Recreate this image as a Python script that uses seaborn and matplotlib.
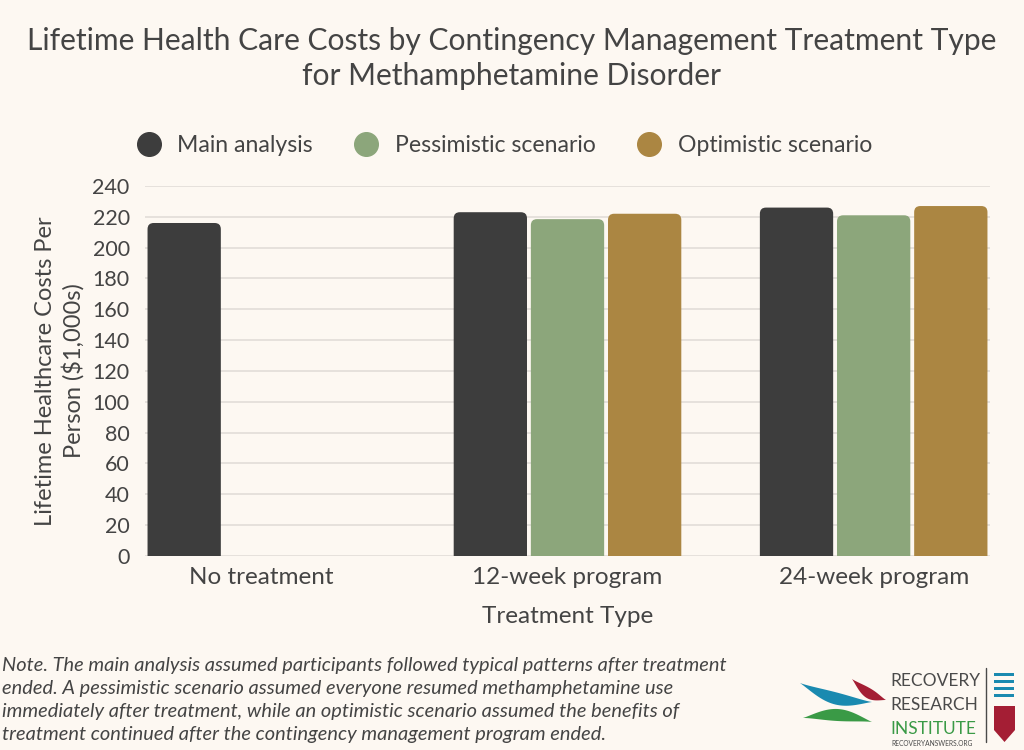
import numpy as np
import pandas as pd
import matplotlib
matplotlib.use("Agg")
import matplotlib.pyplot as plt
import seaborn as sns
from matplotlib.patches import FancyBboxPatch, Polygon, Rectangle
from matplotlib.lines import Line2D

treatments = ["No treatment", "12-week program", "24-week program"]
scenarios = ["Main analysis", "Pessimistic scenario", "Optimistic scenario"]
main_costs = [216, 223, 226]
pessimistic_costs = [np.nan, 218.5, 221]
optimistic_costs = [np.nan, 222, 227]
yticks = list(range(0, 241, 20))

colors = ["#3d3d3d", "#8ca67b", "#ab8642"]
bg = "#fdf8f2"
txt = "#444444"

rows = []
for name, vals in zip(scenarios, [main_costs, pessimistic_costs, optimistic_costs]):
    for t, v in zip(treatments, vals):
        if not np.isnan(v):
            rows.append({"Treatment": t, "Scenario": name, "Cost": v})
df = pd.DataFrame(rows)

sns.set_style("white")
plt.rcParams['font.family'] = ['Lato', 'DejaVu Sans']
plt.rcParams['text.color'] = txt

fig = plt.figure(figsize=(10.24, 7.5), dpi=100, facecolor=bg)
ax = fig.add_axes([0.1416, 0.2587, 0.8252, 0.4933])
ax.set_facecolor(bg)

sns.barplot(data=df, x="Treatment", y="Cost", hue="Scenario", order=treatments,
            hue_order=scenarios, palette=colors, width=0.756, gap=0.05,
            saturation=1, legend=False, ax=ax, zorder=3)

# rounded tops
for bar in list(ax.patches):
    x0, w, h = bar.get_x(), bar.get_width(), bar.get_height()
    if np.isnan(h) or h == 0:
        bar.remove()
        continue
    fc = bar.get_facecolor()
    bar.remove()
    rb = FancyBboxPatch((x0, -10), w, h + 10,
                        boxstyle="round,pad=0,rounding_size=0.02",
                        mutation_aspect=199, fc=fc, ec="none", zorder=3)
    ax.add_patch(rb)

ax.set_xlim(-0.38, 2.38)
ax.set_ylim(0, 240)
ax.set_yticks(yticks)
ax.yaxis.grid(True, color="#e2ddd8", lw=1.2, zorder=0)
ax.tick_params(axis="both", length=0, labelcolor=txt)
ax.tick_params(axis="x", pad=8, labelsize=17.5)
ax.tick_params(axis="y", pad=11, labelsize=15.5)
for s in ax.spines.values():
    s.set_visible(False)
ax.set_xlabel("Treatment Type", fontsize=17.5, color=txt, labelpad=13)
ax.set_ylabel("Lifetime Healthcare Costs Per\nPerson ($1,000s)", fontsize=17,
              color=txt, labelpad=6, linespacing=1.25)

fig.text(0.5, 0.922, "Lifetime Health Care Costs by Contingency Management Treatment Type\nfor Methamphetamine Disorder",
         ha="center", va="center", fontsize=21.6, color=txt, linespacing=1.32)

handles = [Line2D([], [], marker="o", ls="none", ms=17, mfc=c, mec=c) for c in colors]
fig.legend(handles, scenarios, loc="center", bbox_to_anchor=(0.487, 0.806), ncol=3,
           frameon=False, fontsize=16.6, handletextpad=0.25, columnspacing=1.3)

note = ("Note. The main analysis assumed participants followed typical patterns after treatment\n"
        "ended. A pessimistic scenario assumed everyone resumed methamphetamine use\n"
        "immediately after treatment, while an optimistic scenario assumed the benefits of\n"
        "treatment continued after the contingency management program ended.")
fig.text(0.002, 0.0667, note, ha="left", va="center", fontsize=14.4, style="italic",
         color=txt, linespacing=1.42)


def leaf(x0, y0, x1, y1, width, bend, color):
    # thin curved leaf shape in figure pixels
    t = np.linspace(0, 1, 40)
    px = x0 + (x1 - x0) * t
    py = y0 + (y1 - y0) * t + bend * np.sin(np.pi * t)
    dx, dy = x1 - x0, y1 - y0
    n = np.hypot(dx, dy)
    nx, ny = -dy / n, dx / n
    half = width * np.sin(np.pi * t) ** 1.2
    top = np.column_stack([px + nx * half, py + ny * half])
    bot = np.column_stack([px - nx * half, py - ny * half])[::-1]
    pts = np.vstack([top, bot]) / np.array([1024, 750])
    fig.patches.append(Polygon(pts, closed=True, transform=fig.transFigure, fc=color, ec="none"))


# logo (pixel coordinates converted to figure fractions)
leaf(800, 750 - 683, 872, 750 - 702, 6, -6, "#1a8ab0")
leaf(852, 750 - 679, 886, 750 - 700, 5, -4, "#a41e34")
leaf(803, 750 - 718, 872, 750 - 722, 6, 5, "#3a9a46")
fig.text(890 / 1024, 1 - 681 / 750, "RECOVERY", fontsize=12.5, color="#4a4a4a", va="center")
fig.text(890 / 1024, 1 - 705 / 750, "RESEARCH", fontsize=12.5, color="#4a4a4a", va="center")
fig.text(890 / 1024, 1 - 729 / 750, "INSTITUTE", fontsize=12.5, color="#3a9a46", va="center")
fig.text(891 / 1024, 1 - 743 / 750, "RECOVERYANSWERS.ORG", fontsize=4.8, color="#4a4a4a", va="center")
fig.lines.append(Line2D([986 / 1024, 986 / 1024], [1 - 742 / 750, 1 - 668 / 750],
                        transform=fig.transFigure, color="#4a4a4a", lw=1))
for k in range(4):
    fig.patches.append(Rectangle((994 / 1024, 1 - (676 + 7 * k) / 750), 20 / 1024, 3 / 750,
                                 transform=fig.transFigure, fc="#1a8ab0", ec="none"))
fig.patches.append(Polygon(np.array([(994, 706), (1015, 706), (1015, 730), (1004.5, 742), (994, 730)]) / np.array([1024, -750]) + np.array([0, 1]),
                           closed=True, transform=fig.transFigure, fc="#a41e34", ec="none"))

fig.savefig("out.png", dpi=100, facecolor=bg)
